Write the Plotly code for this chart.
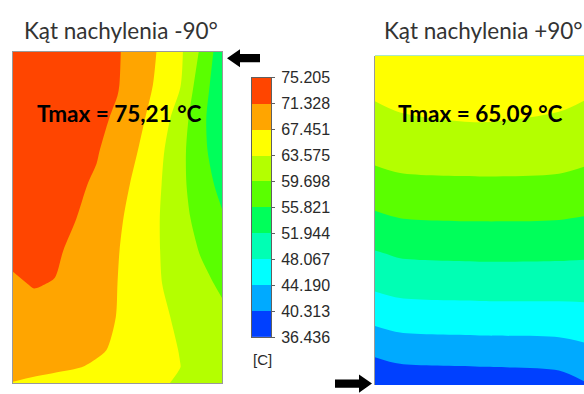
import plotly.graph_objects as go

W, H = 584, 394

# Temperature levels [°C] and band colours (lowest band first)
levels = [36.436, 40.313, 44.190, 48.067, 51.944, 55.821, 59.698, 63.575, 67.451, 71.328, 75.205]
level_labels = ["36.436", "40.313", "44.190", "48.067", "51.944", "55.821",
                "59.698", "63.575", "67.451", "71.328", "75.205"]
band_colors = ["#0040FF", "#00AAFF", "#00FFFF", "#00FFB4", "#00FF5A",
               "#5AFF00", "#B4FF00", "#FFFF00", "#FFA500", "#FF4500"]

# Panel 1: tilt -90°, temperature field (rows from top to bottom, columns from left to right)
left_x = [0.0, 0.1, 0.2, 0.3, 0.4, 0.5, 0.6, 0.7, 0.8, 0.9, 1.0]
left_y = [0.0, 0.1, 0.2, 0.3, 0.4, 0.5, 0.6, 0.7, 0.8, 0.9, 0.95, 1.0]
left_t = [
    [75.20, 74.48, 73.77, 73.05, 72.34, 71.62, 69.76, 67.08, 64.23, 59.11, 53.50],
    [75.10, 74.38, 73.67, 72.95, 72.24, 71.52, 69.35, 66.60, 63.75, 57.44, 53.50],
    [74.90, 74.16, 73.42, 72.69, 71.95, 70.92, 68.37, 65.53, 61.84, 56.49, 53.80],
    [74.50, 73.77, 73.04, 72.31, 71.58, 69.76, 67.36, 64.44, 60.83, 56.74, 53.80],
    [74.00, 73.30, 72.59, 71.89, 70.89, 68.79, 66.52, 63.94, 60.60, 57.59, 54.74],
    [73.30, 72.67, 72.04, 71.41, 69.80, 68.06, 65.95, 63.64, 60.89, 58.43, 56.20],
    [72.00, 72.10, 71.90, 70.48, 69.06, 67.64, 65.69, 63.66, 61.53, 59.43, 57.50],
    [70.95, 71.50, 71.20, 69.95, 68.70, 67.45, 65.62, 63.79, 62.20, 60.64, 59.10],
    [70.00, 70.30, 69.90, 69.30, 68.60, 67.35, 65.81, 64.29, 62.93, 61.72, 60.50],
    [69.00, 69.10, 68.90, 68.50, 67.90, 66.95, 65.78, 64.62, 63.46, 62.23, 61.00],
    [68.50, 68.40, 68.10, 67.70, 67.02, 66.16, 65.31, 64.46, 63.61, 62.41, 61.20],
    [67.35, 66.86, 66.37, 65.87, 65.38, 64.89, 64.40, 63.91, 63.25, 62.28, 61.30],
]

# Panel 2: tilt +90°, temperature field
right_x = [0.0, 0.12, 0.5, 0.88, 1.0]
right_y = [0.0, 0.1, 0.2, 0.3, 0.4, 0.5, 0.6, 0.7, 0.8, 0.9, 1.0]
right_t = [
    [65.00, 64.93, 64.90, 64.96, 65.09],
    [64.10, 64.20, 64.24, 64.20, 64.10],
    [62.69, 63.32, 63.59, 63.29, 62.61],
    [60.52, 61.08, 61.31, 61.09, 60.55],
    [57.89, 58.53, 58.80, 58.60, 58.12],
    [54.85, 55.53, 55.82, 55.69, 55.40],
    [51.55, 52.30, 52.62, 52.56, 52.42],
    [48.50, 49.19, 49.49, 49.47, 49.44],
    [44.86, 45.65, 45.99, 46.09, 46.34],
    [40.74, 41.59, 41.96, 42.30, 43.09],
    [36.53, 37.39, 37.75, 38.36, 39.75],
]

titles = ["Kąt nachylenia -90°", "Kąt nachylenia +90°"]
tmax_labels = ["Tmax = 75,21 °C", "Tmax = 65,09 °C"]
unit_label = "[C]"

n_lev = len(levels)
step = (levels[-1] - levels[0]) / (n_lev - 1)

# Contour fill colours are sampled at band centres -> positions (k+1)/n_lev
contour_scale = [[0.0, band_colors[0]]]
for k, c in enumerate(band_colors):
    contour_scale.append([(k + 1) / n_lev, c])
contour_scale.append([1.0, band_colors[-1]])

# Stepped colour scale for the legend bar
bar_scale = []
nb = len(band_colors)
for k, c in enumerate(band_colors):
    bar_scale.append([k / nb, c])
    bar_scale.append([(k + 1) / nb, c])
band_mid = [[(levels[k] + levels[k + 1]) / 2] for k in range(nb)]


def px(x, y):
    return x / W, 1 - y / H


def px_path(points):
    parts = []
    for i, (x, y) in enumerate(points):
        X, Y = px(x, y)
        parts.append(("M" if i == 0 else "L") + f"{X:.5f},{Y:.5f}")
    return " ".join(parts) + " Z"


contour_common = dict(
    contours=dict(start=levels[0], end=levels[-1], size=step,
                  coloring="fill", showlines=False),
    line=dict(width=0, smoothing=0.8),
    colorscale=contour_scale,
    showscale=False,
    hoverinfo="skip",
)

fig = go.Figure()
fig.add_trace(go.Contour(x=left_x, y=left_y, z=left_t, xaxis="x", yaxis="y", **contour_common))
fig.add_trace(go.Contour(x=right_x, y=right_y, z=right_t, xaxis="x2", yaxis="y2", **contour_common))
fig.add_trace(go.Heatmap(x=[0, 1], y=levels, z=band_mid, colorscale=bar_scale,
                         zmin=levels[0], zmax=levels[-1], showscale=False,
                         xaxis="x3", yaxis="y3", hoverinfo="skip"))

border = "#9a9a9a"
hidden = dict(showticklabels=False, ticks="", showgrid=False, zeroline=False)

fig.update_layout(
    width=W, height=H,
    margin=dict(l=0, r=0, t=0, b=0),
    paper_bgcolor="white", plot_bgcolor="white",
    showlegend=False,
    xaxis=dict(domain=[13 / W, 222 / W], range=[0, 1], showline=True, mirror=True,
               linecolor=border, linewidth=1, **hidden),
    yaxis=dict(domain=[2 / H, 348 / H], range=[1, 0], showline=True, mirror=True,
               linecolor=border, linewidth=1, **hidden),
    xaxis2=dict(domain=[375 / W, 1.0], range=[0, 1], showline=False, anchor="y2", **hidden),
    yaxis2=dict(domain=[0, 344 / H], range=[344 / 346, 0], showline=True, mirror=False,
                linecolor=border, linewidth=1, anchor="x2", **hidden),
    xaxis3=dict(domain=[252 / W, 271 / W], range=[0, 1], showline=True, mirror=True,
                linecolor="#606060", linewidth=1, anchor="y3", **hidden),
    yaxis3=dict(domain=[50 / H, 321 / H], range=[levels[0], levels[-1]], side="right",
                anchor="x3", showline=True, mirror=True, linecolor="#606060", linewidth=1,
                tickvals=levels, ticktext=level_labels, ticks="outside", ticklen=3,
                ticklabelstandoff=3,
                tickcolor="#606060", showgrid=False, zeroline=False,
                tickfont=dict(family="Liberation Sans, Arial", size=16, color="#2a2a2a")),
)

annotations = []
for i, (cx, txt) in enumerate(zip([121, 483], titles)):
    X, Y = px(cx, 24)
    annotations.append(dict(x=X, y=Y, xref="paper", yref="paper", text=txt, showarrow=False,
                            xanchor="center", yanchor="middle",
                            font=dict(family="Lato, Open Sans", size=22.5, color="#333333")))
for cx, txt in zip([119.5, 480], tmax_labels):
    X, Y = px(cx, 110)
    annotations.append(dict(x=X, y=Y, xref="paper", yref="paper", text="<b>" + txt + "</b>",
                            showarrow=False, xanchor="center", yanchor="middle",
                            font=dict(family="Lato, Open Sans", size=22.5, color="#000000")))
X, Y = px(262, 367)
annotations.append(dict(x=X, y=Y, xref="paper", yref="paper", text=unit_label, showarrow=False,
                        xanchor="center", yanchor="middle",
                        font=dict(family="Liberation Sans, Arial", size=15, color="#2a2a2a")))
fig.update_layout(annotations=annotations)

# Flow direction arrows
arrow_left = [(227, 52.5), (240, 43), (240, 48.2), (260, 48.2), (260, 56.8),
              (240, 56.8), (240, 62)]
arrow_right = [(372, 392.5), (359, 383), (359, 388.2), (335, 388.2), (335, 396.8),
               (359, 396.8), (359, 402)]
fig.update_layout(shapes=[
    dict(type="path", xref="paper", yref="paper", path=px_path(arrow_left),
         fillcolor="black", line=dict(width=0)),
    dict(type="path", xref="paper", yref="paper", path=px_path(arrow_right),
         fillcolor="black", line=dict(width=0)),
])

fig.write_html("out.html")
